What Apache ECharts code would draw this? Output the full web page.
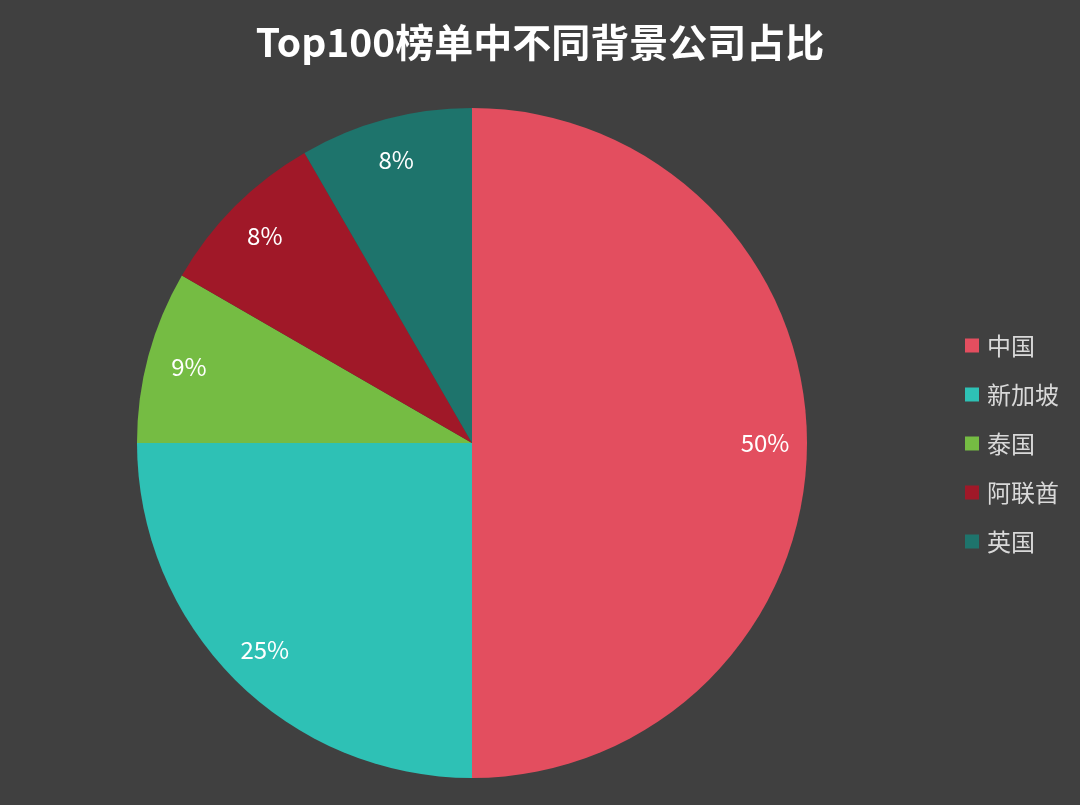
<!DOCTYPE html>
<html>
<head>
<meta charset="utf-8">
<title>Top100榜单中不同背景公司占比</title>
<script src="https://cdn.jsdelivr.net/npm/echarts@6/dist/echarts.min.js"></script>
<style>
    html, body { margin: 0; padding: 0; background: #404040; }
    #main { width: 1080px; height: 805px; }
</style>
</head>
<body>
<div id="main"></div>
<script>
// 数据
var categories = ['中国', '新加坡', '泰国', '阿联酋', '英国'];
var values = [12, 6, 2, 2, 2];
var percentLabels = ['50%', '25%', '9%', '8%', '8%'];
var colors = ['#E34E5F', '#2EC1B5', '#75BC43', '#A01828', '#1E746C'];

window.onload = function () {
    var myChart = echarts.init(document.getElementById('main'));

    var pieData = categories.map(function (name, i) {
        return { name: name, value: values[i], itemStyle: { color: colors[i] } };
    });

    var option = {
        backgroundColor: '#404040',
        title: {
            text: 'Top100榜单中不同背景公司占比',
            left: 'center',
            top: 23,
            padding: 0,
            textStyle: {
                color: '#ffffff',
                fontSize: 39,
                fontWeight: 'bold',
                fontFamily: 'Noto Sans CJK SC'
            }
        },
        legend: {
            orient: 'vertical',
            left: 965,
            top: 333,
            padding: 0,
            itemWidth: 14,
            itemHeight: 14,
            itemGap: 24,
            icon: 'rect',
            textStyle: {
                color: '#d9d9d9',
                fontSize: 24,
                lineHeight: 25,
                padding: [0, 0, 0, 3],
                fontFamily: 'Noto Sans CJK SC'
            },
            data: categories
        },
        series: [
            {
                // 饼图本体
                name: '占比',
                type: 'pie',
                radius: 335,
                center: [472, 443],
                startAngle: 90,
                silent: true,
                label: { show: false },
                labelLine: { show: false },
                data: pieData
            },
            {
                // 只用来放标签的透明环
                name: '标签',
                type: 'pie',
                radius: [245, 335],
                center: [472, 443],
                startAngle: 90,
                silent: true,
                itemStyle: { color: 'transparent' },
                label: {
                    show: true,
                    position: 'inside',
                    color: '#ffffff',
                    fontSize: 24,
                    fontFamily: 'Noto Sans CJK SC',
                    formatter: function (p) {
                        return percentLabels[p.dataIndex];
                    }
                },
                labelLine: { show: false },
                data: categories.map(function (name, i) {
                    return { name: name, value: values[i], itemStyle: { color: 'transparent' } };
                })
            }
        ]
    };

    myChart.setOption(option);
};
</script>
</body>
</html>
